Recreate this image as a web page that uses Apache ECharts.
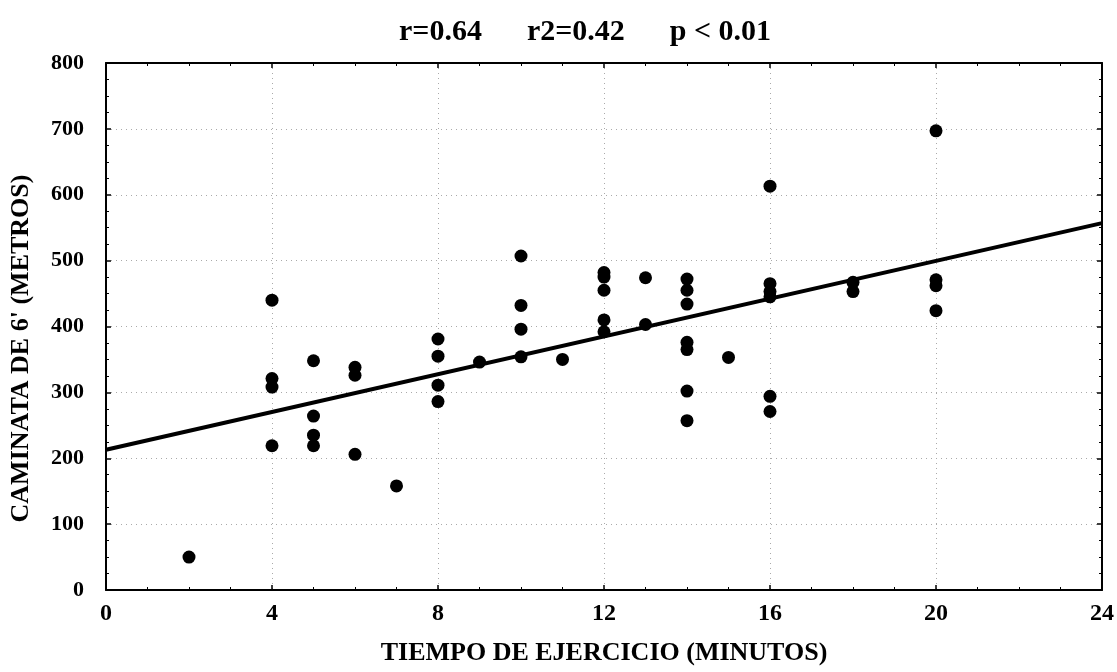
<!DOCTYPE html>
<html>
<head>
<meta charset="utf-8">
<script src="https://cdn.jsdelivr.net/npm/echarts@6/dist/echarts.min.js"></script>
<style>
	html, body { margin: 0; padding: 0; background: #fff; }
	#chart { width: 1117px; height: 672px; }
</style>
</head>
<body>
<div id="chart"></div>
<script>
// minutes of exercise and 6-minute walk distance
const minutos = [
	2,
	4, 4, 4, 4,
	5, 5, 5, 5,
	6, 6, 6,
	7,
	8, 8, 8, 8,
	9,
	10, 10, 10, 10,
	11,
	12, 12, 12, 12, 12,
	13, 13,
	14, 14, 14, 14, 14, 14, 14,
	15,
	16, 16, 16, 16, 16, 16,
	18, 18,
	20, 20, 20, 20
];
const metros = [
	50,
	440, 321, 308, 219,
	348, 264, 235, 219,
	338, 326, 206,
	158,
	381, 355, 311, 286,
	346,
	507, 432, 396, 354,
	350,
	482, 475, 455, 410, 392,
	474, 403,
	472, 455, 434, 376, 365, 302, 257,
	353,
	613, 465, 453, 445, 294, 271,
	467, 453,
	697, 471, 462, 424
];
// regression line end points
const lineaX = [ 0, 24 ];
const lineaY = [ 213, 557 ];

const xTicks = [ 0, 4, 8, 12, 16, 20, 24 ];
const yTicks = [ 0, 100, 200, 300, 400, 500, 600, 700, 800 ];

const fontFamily = '"Liberation Serif", "DejaVu Serif", serif';

const chart = echarts.init( document.getElementById( 'chart' ) );

// top and right frame lines with inward ticks
const frameAxis = {
	axisLine: { show: true, onZero: false, lineStyle: { color: '#000', width: 2 } },
	axisTick: { show: true, inside: true, length: 5, lineStyle: { color: '#000', width: 1.5 } },
	minorTick: { show: true, splitNumber: 4, length: 3, lineStyle: { color: '#000' } },
	splitLine: { show: false },
	axisLabel: { show: false }
};

chart.setOption( {
	animation: false,
	backgroundColor: '#fff',
	title: {
		text: 'r=0.64      r2=0.42      p < 0.01',
		left: 394,
		top: 12,
		textStyle: { fontFamily: fontFamily, fontWeight: 'bold', fontSize: 30, color: '#000' }
	},
	grid: { left: 106, right: 13, top: 63, bottom: 82 },
	xAxis: [
		{
			type: 'value',
			min: xTicks[ 0 ],
			max: xTicks[ xTicks.length - 1 ],
			interval: 4,
			name: 'TIEMPO DE EJERCICIO (MINUTOS)',
			nameLocation: 'middle',
			nameGap: 50,
			nameTextStyle: { fontFamily: fontFamily, fontWeight: 'bold', fontSize: 26, color: '#000' },
			axisLine: { onZero: false, lineStyle: { color: '#000', width: 2 } },
			axisTick: { inside: true, length: 5, lineStyle: { color: '#000', width: 1.5 } },
			minorTick: { show: true, splitNumber: 4, length: 3, lineStyle: { color: '#000' } },
			axisLabel: { margin: 12, fontFamily: fontFamily, fontWeight: 'bold', fontSize: 24, color: '#000' },
			splitLine: { show: true, lineStyle: { color: '#aaa', type: [ 1, 4 ], width: 1 } }
		},
		Object.assign( { type: 'value', position: 'top', min: 0, max: 24, interval: 4 }, frameAxis )
	],
	yAxis: [
		{
			type: 'value',
			min: yTicks[ 0 ],
			max: yTicks[ yTicks.length - 1 ],
			interval: 100,
			name: 'CAMINATA DE 6\' (METROS)',
			nameLocation: 'middle',
			nameGap: 72,
			nameTextStyle: { fontFamily: fontFamily, fontWeight: 'bold', fontSize: 26, color: '#000', padding: [ 0, 44, 0, 0 ] },
			axisLine: { show: true, onZero: false, lineStyle: { color: '#000', width: 2 } },
			axisTick: { show: true, inside: true, length: 5, lineStyle: { color: '#000', width: 1.5 } },
			minorTick: { show: true, splitNumber: 4, length: 3, lineStyle: { color: '#000' } },
			axisLabel: { margin: 22, fontFamily: fontFamily, fontWeight: 'bold', fontSize: 22, color: '#000' },
			splitLine: { show: true, lineStyle: { color: '#aaa', type: [ 1, 4 ], width: 1 } }
		},
		Object.assign( { type: 'value', position: 'right', min: 0, max: 800, interval: 100 }, frameAxis )
	],
	series: [
		{
			type: 'scatter',
			data: minutos.map( ( m, i ) => [ m, metros[ i ] ] ),
			symbol: 'circle',
			symbolSize: 13,
			itemStyle: { color: '#000', opacity: 1 },
			z: 3
		},
		{
			type: 'line',
			data: lineaX.map( ( x, i ) => [ x, lineaY[ i ] ] ),
			symbol: 'none',
			lineStyle: { color: '#000', width: 4 },
			z: 4
		}
	]
} );
</script>
</body>
</html>
